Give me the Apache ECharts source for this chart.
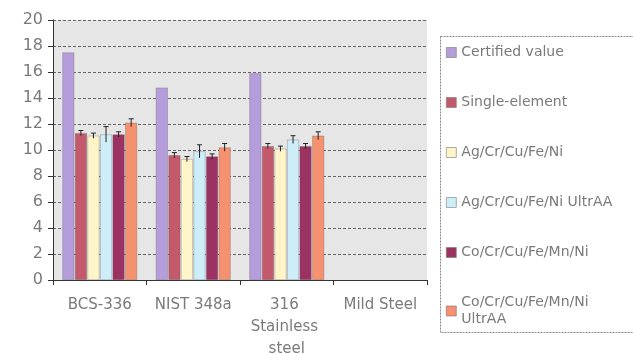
<!DOCTYPE html>
<html><head><meta charset="utf-8">
<script src="https://cdn.jsdelivr.net/npm/echarts@6/dist/echarts.min.js"></script>
<style>html,body{margin:0;padding:0;background:#fff}#c{width:633px;height:354px}</style>
</head><body><div id="c"></div>
<script>
const categories = ['BCS-336', 'NIST 348a', '316 Stainless steel', 'Mild Steel'];
const seriesNames = ['Certified value', 'Single-element', 'Ag/Cr/Cu/Fe/Ni', 'Ag/Cr/Cu/Fe/Ni UltrAA', 'Co/Cr/Cu/Fe/Mn/Ni', 'Co/Cr/Cu/Fe/Mn/Ni UltrAA'];
const certified = [17.5, 14.8, 15.9, null];
const singleElement = [11.3, 9.6, 10.3, null];
const agMix = [11.1, 9.3, 10.1, null];
const agMixUltra = [11.2, 9.9, 10.8, null];
const coMix = [11.2, 9.5, 10.3, null];
const coMixUltra = [12.1, 10.2, 11.1, null];
const errCertified = [0, 0, 0, null];
const errSingle = [0.2, 0.2, 0.2, null];
const errAgMix = [0.2, 0.2, 0.2, null];
const errAgMixUltra = [0.6, 0.5, 0.3, null];
const errCoMix = [0.2, 0.2, 0.2, null];
const errCoMixUltra = [0.3, 0.3, 0.3, null];
const yTicks = [0, 2, 4, 6, 8, 10, 12, 14, 16, 18, 20];

const values = [certified, singleElement, agMix, agMixUltra, coMix, coMixUltra];
const errors = [errCertified, errSingle, errAgMix, errAgMixUltra, errCoMix, errCoMixUltra];
const colors = ['#b59cda', '#c25a6c', '#fff5c8', '#cdedf8', '#9c3262', '#f6916f'];

const BAR_GAP = 0.05, CAT_GAP = 0.2;
const font = 'DejaVu Sans, Verdana, sans-serif';

const barSeries = values.map((v, i) => ({
  name: seriesNames[i], type: 'bar', data: v,
  barGap: (BAR_GAP * 100) + '%', barCategoryGap: (CAT_GAP * 100) + '%',
  itemStyle: { color: colors[i], borderColor: 'rgba(90,90,90,0.5)', borderWidth: 0.6 },
  z: 2
}));

const errData = [];
values.forEach((v, si) => v.forEach((val, ci) => {
  if (val != null && errors[si][ci]) errData.push([ci, val, errors[si][ci], si]);
}));

const errSeries = {
  type: 'custom', name: 'err', data: errData, z: 5, silent: true,
  renderItem: function (params, api) {
    const ci = api.value(0), val = api.value(1), e = api.value(2), si = api.value(3);
    const band = api.size([1, 0])[0];
    const n = values.length;
    const groupW = band * (1 - CAT_GAP);
    const w = groupW / (n + (n - 1) * BAR_GAP);
    const center = api.coord([ci, val]);
    const x = center[0] - groupW / 2 + si * w * (1 + BAR_GAP) + w / 2;
    const top = api.coord([ci, val + e])[1];
    const bot = api.coord([ci, val - e])[1];
    const s = { stroke: '#222', lineWidth: 1 };
    return { type: 'group', children: [
      { type: 'line', shape: { x1: x, y1: top, x2: x, y2: bot }, style: s },
      { type: 'line', shape: { x1: x - 2.5, y1: top, x2: x + 2.5, y2: top }, style: s }
    ]};
  }
};

const chart = echarts.init(document.getElementById('c'), null, { renderer: 'canvas' });
chart.setOption({
  animation: false,
  backgroundColor: '#fff',
  textStyle: { fontFamily: font },
  grid: { left: 53, top: 20, right: 206, bottom: 74, show: true, backgroundColor: '#e6e6e6', borderWidth: 0,
          containLabel: false, outerBoundsMode: 'none' },
  legend: {
    data: seriesNames, orient: 'vertical', left: 446, top: 44, padding: 0,
    itemWidth: 10, itemHeight: 10, itemGap: 33, icon: 'rect',
    textStyle: { color: '#7a7a7a', fontSize: 14, fontFamily: font, lineHeight: 17 },
    formatter: function (n) { return n === 'Co/Cr/Cu/Fe/Mn/Ni UltrAA' ? 'Co/Cr/Cu/Fe/Mn/Ni\nUltrAA' : n; },
    itemStyle: { borderColor: '#777', borderWidth: 0.6 }
  },
  graphic: [{ type: 'rect', shape: { x: 440.5, y: 36.5, width: 200, height: 296 },
    style: { fill: 'none', stroke: '#888', lineWidth: 1, lineDash: [2, 1] }, z: 0 }],
  xAxis: {
    type: 'category', data: categories,
    axisLine: { lineStyle: { color: '#333' } },
    axisTick: { show: true, interval: 0, length: 5, lineStyle: { color: '#333' } },
    axisLabel: { interval: 0, color: '#7a7a7a', fontSize: 15, fontFamily: font, margin: 14, width: 88, overflow: 'break', lineHeight: 22 }
  },
  yAxis: {
    type: 'value', min: yTicks[0], max: yTicks[yTicks.length - 1], interval: 2,
    axisLine: { show: true, lineStyle: { color: '#333' } },
    axisTick: { show: true, length: 5, lineStyle: { color: '#333' } },
    axisLabel: { color: '#7a7a7a', fontSize: 16, fontFamily: font, margin: 10 },
    splitLine: { show: true, lineStyle: { color: '#666', type: [3, 2], width: 1 } }
  },
  series: barSeries.concat([errSeries])
});
</script></body></html>
